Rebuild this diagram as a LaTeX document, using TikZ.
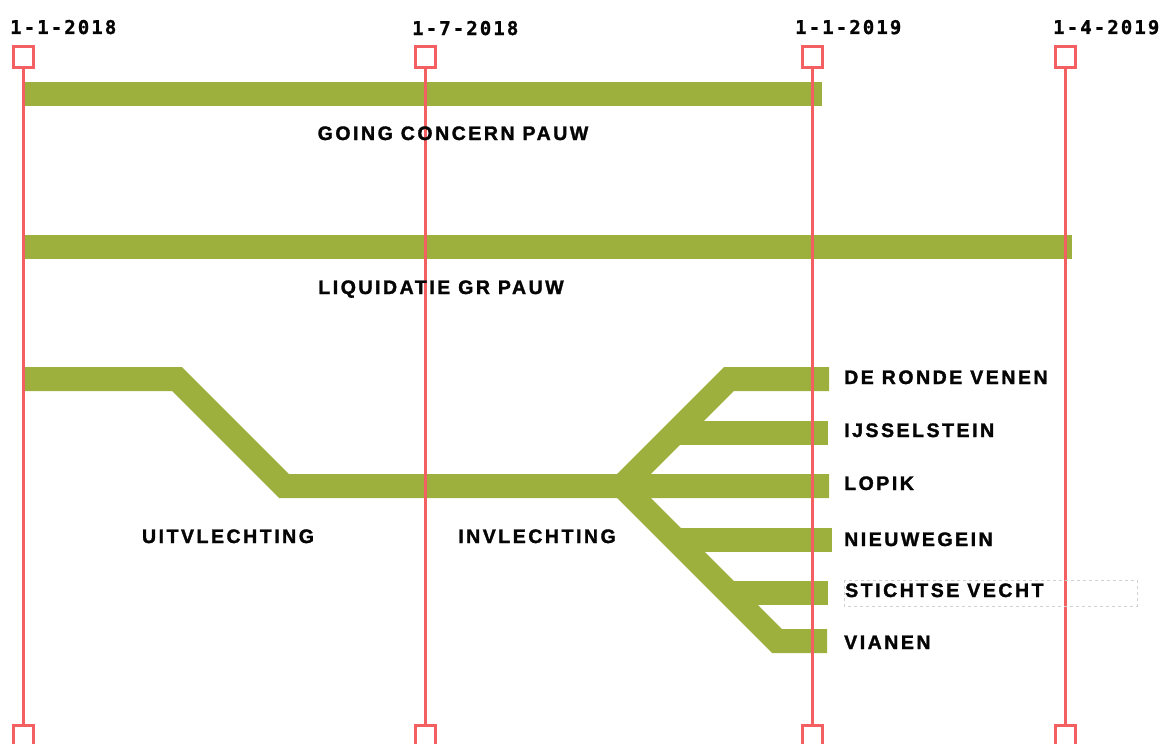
\documentclass[tikz,border=0pt]{standalone}
\usepackage{fontspec}
\newfontfamily\labfont{Liberation Sans}[UprightFont={* Bold}, LetterSpace=13, FakeBold=1.6]
\newfontfamily\datefont{DejaVu Sans Mono}[UprightFont={* Bold}, LetterSpace=11, FakeBold=1.2]
\definecolor{trackgreen}{RGB}{157,176,62}
\definecolor{axisred}{RGB}{244,96,98}
\definecolor{inkblack}{RGB}{5,5,5}
\tikzset{
  track/.style={draw=trackgreen, line width=24pt, line cap=butt, line join=miter},
  axisline/.style={draw=axisred, line width=3pt},
  sq/.style={draw=axisred, fill=white, line width=3pt, minimum width=20pt, minimum height=21pt, inner sep=0pt},
  datelab/.style={anchor=base west, inner sep=0pt, text=inkblack, font=\datefont\fontsize{19}{19}\selectfont},
  lab/.style={anchor=base, inner sep=0pt, text=inkblack, font=\labfont\fontsize{19.5}{19.5}\selectfont},
  rlab/.style={lab, anchor=base west},
}
\begin{document}
\begin{tikzpicture}[x=1pt,y=-1pt]
\useasboundingbox (0,0) rectangle (1162,744);
\clip (0,0) rectangle (1162,744);
% green tracks
\coordinate (g1s) at (23,93.5);
\coordinate (g1e) at (822,93.5);
\coordinate (g2s) at (23,246.5);
\coordinate (g2e) at (1072,246.5);
\draw[track] (g1s) -- (g1e);
\draw[track] (g2s) -- (g2e);
\coordinate (u0) at (23,379);
\coordinate (u1) at (177,379);
\coordinate (u2) at (284,486);
\coordinate (apex) at (622,486);
\coordinate (lopE) at (829,486);
\draw[track] (u0) -- (u1) -- (u2) -- (lopE);
\coordinate (dtop) at (729,379);
\coordinate (drvE) at (829,379);
\draw[track] (apex) -- (dtop) -- (drvE);
\coordinate (ijsS) at (675,433);
\coordinate (ijsE) at (828,433);
\draw[track] (ijsS) -- (ijsE);
\coordinate (dbot) at (777,641);
\coordinate (viaE) at (827,641);
\draw[track] (apex) -- (dbot) -- (viaE);
\coordinate (nwS) at (676,540);
\coordinate (nwE) at (832,540);
\draw[track] (nwS) -- (nwE);
\coordinate (svS) at (729,593);
\coordinate (svE) at (828,593);
\draw[track] (svS) -- (svE);
% axes
\foreach \n/\x in {1/23,2/425,3/812,4/1065}{
  \node[sq] (t\n) at (\x,57) {};
  \node[sq] (b\n) at (\x,736) {};
  \draw[axisline] (t\n.south) -- (b\n.north);
}
% dates
\node[datelab] (d1) at (10,34) {1-1-2018};
\node[datelab] (d2) at (412,35) {1-7-2018};
\node[datelab] (d3) at (795,34) {1-1-2019};
\node[datelab] (d4) at (1053,34) {1-4-2019};
% labels
\node[lab] (going) at (453,140) {GOING CONCERN PAUW};
\node[lab] (liq) at (441,294) {LIQUIDATIE GR PAUW};
\node[lab] (uit) at (228,543) {UITVLECHTING};
\node[lab] (inv) at (537,543) {INVLECHTING};
\node[rlab] (drv) at (844,384) {DE RONDE VENEN};
\node[rlab] (ijs) at (844,437) {IJSSELSTEIN};
\node[rlab] (lop) at (844,490) {LOPIK};
\node[rlab] (nw) at (844,546) {NIEUWEGEIN};
\node[rlab] (sv) at (845,597) {STICHTSE VECHT};
\node[rlab] (via) at (844,649) {VIANEN};
\draw[dashed, draw=black!18, line width=0.8pt] (844,580) rectangle (1137,606);
\end{tikzpicture}
\end{document}
